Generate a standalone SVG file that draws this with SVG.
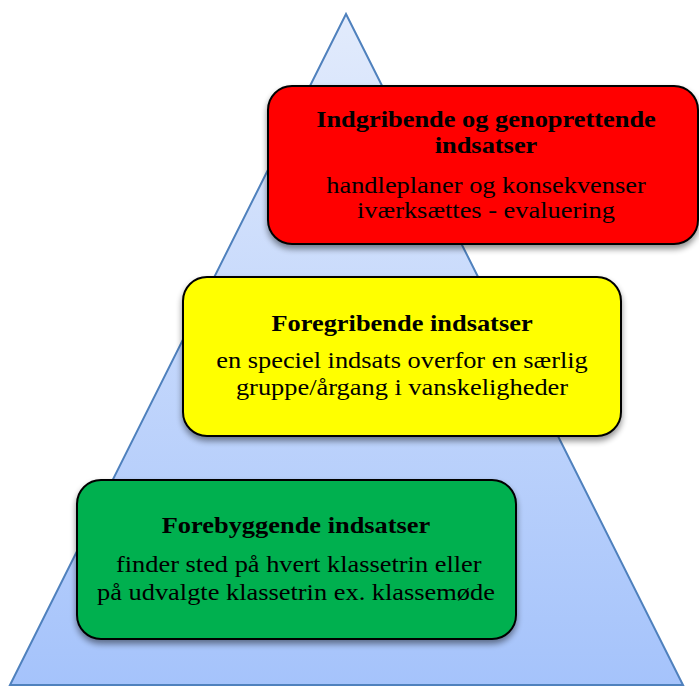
<svg xmlns="http://www.w3.org/2000/svg" width="699" height="686" viewBox="0 0 699 686">
<defs>
<linearGradient id="tri" x1="0" y1="0" x2="0" y2="1">
<stop offset="0" stop-color="#e2ebfc"/>
<stop offset="1" stop-color="#a5c3fb"/>
</linearGradient>
<filter id="sh" x="-10%" y="-10%" width="120%" height="130%">
<feGaussianBlur in="SourceAlpha" stdDeviation="3"/>
<feOffset dx="0" dy="4" result="b"/>
<feComponentTransfer><feFuncA type="linear" slope="0.45"/></feComponentTransfer>
<feMerge><feMergeNode/><feMergeNode in="SourceGraphic"/></feMerge>
</filter>
</defs>
<style>
.box{stroke:#000;stroke-width:2;filter:url(#sh)}
.t{font-family:"Liberation Serif","Times New Roman",serif;font-weight:bold;font-size:24px;text-anchor:middle;fill:#000}
.b{font-family:"Liberation Serif","Times New Roman",serif;font-size:24px;text-anchor:middle;fill:#000}
</style>
<g id="pyramid">
<polygon points="346,14 683,685 10,685" fill="url(#tri)" stroke="#4f81bd" stroke-width="2"/>
</g>
<g id="connectors"/>
<g id="red">
<rect class="box" x="268" y="86" width="430" height="158" rx="24" fill="#ff0000"/>
<g transform="translate(486,0) scale(1.1,1)">
<text class="t" x="0" y="127">Indgribende og genoprettende</text>
<text class="t" x="0" y="153">indsatser</text>
<text class="b" x="0" y="193">handleplaner og konsekvenser</text>
<text class="b" x="0" y="218">iværksættes - evaluering</text>
</g>
</g>
<g id="yellow">
<rect class="box" x="183" y="277" width="438" height="159" rx="24" fill="#ffff00"/>
<g transform="translate(402,0) scale(1.1,1)">
<text class="t" x="0" y="331">Foregribende indsatser</text>
<text class="b" x="0" y="368">en speciel indsats overfor en særlig</text>
<text class="b" x="0" y="395">gruppe/årgang i vanskeligheder</text>
</g>
</g>
<g id="green">
<rect class="box" x="77" y="480" width="439" height="159" rx="24" fill="#00b050"/>
<g transform="translate(296,0) scale(1.1,1)">
<text class="t" x="0" y="533">Forebyggende indsatser</text>
<text class="b" x="2.5" y="572">finder sted på hvert klassetrin eller</text>
<text class="b" x="0" y="600">på udvalgte klassetrin ex. klassemøde</text>
</g>
</g>
</svg>
